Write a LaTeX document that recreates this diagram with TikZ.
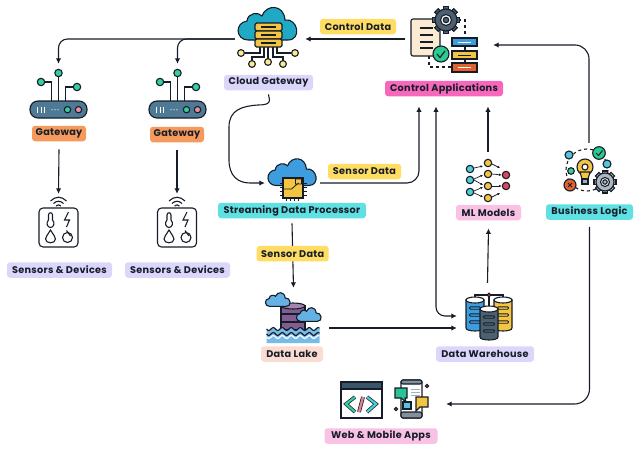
\documentclass[tikz,border=0pt]{standalone}
\usepackage{fontspec}
\setmainfont{Poppins}
\usetikzlibrary{arrows.meta}
\definecolor{ink}{HTML}{161D28}
\definecolor{lilac}{HTML}{DCD6FA}
\definecolor{apricot}{HTML}{F59A5C}
\definecolor{butter}{HTML}{FFDC62}
\definecolor{magenta}{HTML}{F767BC}
\definecolor{aqua}{HTML}{5FE0E2}
\definecolor{blush}{HTML}{F9C2E4}
\definecolor{peach}{HTML}{FBDCD3}
\definecolor{seablue}{HTML}{1FA9C4}
\definecolor{skyblue}{HTML}{3E9DDE}
\definecolor{gold}{HTML}{F4C542}
\definecolor{steel}{HTML}{4F7A96}
\definecolor{mint}{HTML}{2CC990}
\definecolor{rust}{HTML}{E2622F}
\definecolor{rose}{HTML}{D9485F}
\definecolor{slate}{HTML}{4C6070}
\definecolor{paper}{HTML}{FBEBD2}
\tikzset{
	flow/.style={draw=ink, line width=1.1pt, -{Latex[length=5.5pt,width=5.5pt]}},
	tag/.style={rounded corners=3pt, minimum height=15.5pt, inner xsep=0pt, inner ysep=0pt, text=ink, font=\fontsize{9.7}{11}\selectfont\addfontfeature{LetterSpace=3}\bfseries},
	iconbox/.style={inner sep=0pt},
	part/.style={draw=ink, line width=1.1pt},
	pics/cloudshape/.style={code={
		\path[part, pic actions] (-20,14) .. controls (-32,14) and (-34,-3) .. (-21,-5) .. controls (-20,-14) and (-9,-14) .. (-6,-10) .. controls (-2,-22) and (16,-22) .. (17,-6) .. controls (30,-8) and (34,14) .. (20,14) -- cycle;
	}},
	pics/gearshape/.style={code={
		\foreach \a in {0,45,...,315}
			\path[part, pic actions, rotate=\a] (-2.6,-1.22*#1) rectangle (2.6,-0.8*#1);
		\path[part, pic actions] (0,0) circle (#1);
		\path[part, fill=white] (0,0) circle (0.5*#1);
		\path[part, pic actions] (0,0) circle (0.25*#1);
	}},
	pics/dbshape/.style={code={
		\path[part, pic actions] (-9,-15) -- (-9,13) .. controls (-9,17) and (9,17) .. (9,13) -- (9,-15) -- cycle;
		\path[part, fill=white] (0,-15) ellipse [x radius=9, y radius=3];
		\foreach \y in {-7,0,7}
			\draw[part, line width=0.9pt, rounded corners=1pt] (-5.5,\y-1.2) rectangle (5.5,\y+1.2);
	}},
	pics/gatewaypic/.style={code={
		\draw[part] (0,10) -- (0,-18);
		\draw[part] (-7,10) -- (-7,-9) -- (-14,-9);
		\draw[part] (7,10) -- (7,-4) -- (15,-4);
		\path[part, fill=steel, rounded corners=8pt] (-28.5,10) rectangle (28.5,27);
		\foreach \x/\y in {0/-18,-17.5/-9,18.5/-4}
			\path[part, fill=mint!80!aqua] (\x,\y) circle (3.7);
		\foreach \x in {-21,-17.5,-14}
			\draw[white, line width=0.9pt] (\x,16) -- (\x,22);
		\foreach \x in {-6.5,-3.5,-0.5}
			\fill[white] (\x,18.7) circle (0.7);
		\path[part, fill=mint!80!aqua] (9,18.7) circle (3.2);
		\path[part, fill=rose!60!white] (20,18.7) circle (3.2);
	}},
	pics/sensorpic/.style={code={
		\draw[part, rounded corners=4pt] (-19.5,-13) rectangle (19.5,26);
		\draw[part] (-8,-20) .. controls (-3,-25) and (3,-25) .. (8,-20);
		\draw[part] (-5,-17.5) .. controls (-2,-20.5) and (2,-20.5) .. (5,-17.5);
		\draw[part] (-2.5,-15) .. controls (-1,-16.5) and (1,-16.5) .. (2.5,-15);
		\draw[part] (-10,-1) -- (-10,-6) .. controls (-10,-9) and (-6,-9) .. (-6,-6) -- (-6,-1) .. controls (-3,2) and (-5,6.5) .. (-8,6.5) .. controls (-11,6.5) and (-13,2) .. (-10,-1) -- cycle;
		\draw[part] (10,-9) -- (6,-1) -- (11,-1) -- (8,6);
		\draw[part] (-8,9) .. controls (-11,14) and (-13,16) .. (-13,18) .. controls (-13,23) and (-3,23) .. (-3,18) .. controls (-3,16) and (-5,14) .. (-8,9) -- cycle;
		\draw[part] (9,16.5) circle (5);
		\draw[part] (8,9.5) -- (12,15);
	}},
	pics/cloudgwpic/.style={code={
		\draw[part] (-10,8) -- (-10,14) -- (-25,14);
		\draw[part] (-6,8) -- (-6,18) -- (-18,18) -- (-18,22);
		\draw[part] (-2,8) -- (-2,20);
		\draw[part] (3,8) -- (3,18) -- (13,18) -- (13,22);
		\draw[part] (7,8) -- (7,14) -- (21,14);
		\pic[fill=seablue] at (-2,-13) {cloudshape};
		\foreach \y in {-16,-8,0} {
			\path[part, fill=gold, rounded corners=1.5pt] (-15,\y) rectangle (12,\y+8);
			\draw[part] (-9,\y+4) -- (6,\y+4);
		}
		\foreach \x/\y in {-29/14,-18/25,-2/23,13/25,25/14}
			\path[part, fill=butter!70!white] (\x,\y) circle (3.4);
	}},
	pics/ctrlpic/.style={code={
		\draw[part, dashed] (-11,17) -- (-11,28) -- (12,28);
		\draw[part, dashed] (18,-19) -- (25,-19) -- (25,-1);
		\draw[part] (25,7) -- (25,12) (25,20) -- (25,24);
		\path[part, fill=paper, rounded corners=2pt] (-29,-20) rectangle (0,17);
		\foreach \y in {-11,-4,3,9}
			\draw[part] (-20,\y) -- (-7,\y);
		\pic[fill=slate] at (6,-19) {gearshape=11};
		\path[part, fill=skyblue] (12,-1) rectangle (37,7);
		\path[part, fill=gold] (12,12) rectangle (37,20);
		\path[part, fill=rust] (12,24) rectangle (37,33);
		\foreach \y/\c in {3/white,16/ink,28.5/white}
			\draw[\c, line width=0.8pt] (18,\y) -- (31,\y);
		\path[part, fill=mint] (1,15) circle (8);
		\draw[ink, line width=1.1pt] (-3,15) -- (0,18.5) -- (5,12);
	}},
	pics/procpic/.style={code={
		\pic[fill=skyblue, scale=0.82] at (0,-9) {cloudshape};
		\foreach \y in {0,4,8,12} {
			\draw[part, line width=0.7pt] (-13,\y) -- (-9.5,\y);
			\draw[part, line width=0.7pt] (10.5,\y) -- (14,\y);
		}
		\foreach \x in {-6,-2,2,6}
			\draw[part, line width=0.7pt] (\x,15) -- (\x,18);
		\path[part, fill=gold] (-9.5,-5) rectangle (10.5,15);
		\draw[part, line width=0.8pt] (-9.5,6) -- (-1,6) -- (6,0) (3,-4) rectangle (9,1);
	}},
	pics/lakepic/.style={code={
		\path[part, fill=violet!45!slate!80!white] (-12.5,-12) -- (-12.5,12) -- (11.5,12) -- (11.5,-12) -- cycle;
		\path[part, fill=violet!45!slate!60!white] (-0.5,-12) ellipse [x radius=12, y radius=3];
		\foreach \y in {-4,4}
			\draw[part] (-12.5,\y) -- (11.5,\y);
		\pic[fill=skyblue!80!white, scale=0.42] at (-15.5,-17.5) {cloudshape};
		\pic[fill=skyblue!80!white, scale=0.42] at (15.5,-2.5) {cloudshape};
		\fill[skyblue!70!white] plot[domain=-27:26, samples=40, smooth] ({\x},{11+1.5*sin(\x*40)}) -- (26,25) -- (-27,25) -- cycle;
		\draw[white, line width=1.2pt] plot[domain=-27:26, samples=40, smooth] ({\x},{19+1.5*sin(\x*40)});
		\draw[part] plot[domain=-27:26, samples=40, smooth] ({\x},{11+1.5*sin(\x*40)});
		\draw[part] plot[domain=-27:26, samples=40, smooth] ({\x},{16+1.5*sin(\x*40)});
	}},
	pics/whpic/.style={code={
		\draw[part] (-12.5,-10) -- (-12.5,-15) -- (15.5,-15) -- (15.5,-10);
		\draw[part] (1.5,-15) -- (1.5,-1);
		\pic[fill=skyblue] at (-12.5,5) {dbshape};
		\pic[fill=gold] at (15.5,5) {dbshape};
		\pic[fill=slate] at (1.5,14) {dbshape};
		\path[part, fill=rose] (1.5,-15) circle (1.8);
	}},
	pics/mlpic/.style={code={
		\foreach \a/\b/\c/\d in {-14/-13/-5/-15,-14/-2/-5/-6,-14/-1/-5/4,-14/10/-5/6,-14/12/-5/16,4/-17/12/-13,4/-7/13.5/-6,4/5/13.5/5,4/16/12/12}
			\draw[ink, line width=0.7pt, -{Latex[length=2.5pt,width=2.5pt]}] (\a,\b) -- (\c,\d);
		\foreach \y in {-12,-1,11}
			\path[part, fill=aqua!70!seablue] (-18,\y) circle (3.7);
		\foreach \y in {-18,-7,5,17}
			\path[part, fill=gold] (0,\y) circle (3.7);
		\foreach \y in {-6,5}
			\path[part, fill=rose] (18,\y) circle (3.7);
	}},
	pics/bizpic/.style={code={
		\draw[part, dashed] (-2,-2) circle (21);
		\path[part, fill=gold] (-4,-5) circle (8);
		\path[part, fill=gold] (-9,0) -- (-7,7) -- (-1,7) -- (1,0) -- cycle;
		\path[part, fill=white] (-4,-5) circle (3);
		\path[part, fill=slate!50!white] (-7,7) rectangle (-1,12);
		\pic[fill=slate!45!white] at (16,10) {gearshape=9};
		\path[part, fill=mint] (10,-19) circle (6.3);
		\draw[ink, line width=1pt] (7,-19) -- (9.5,-16.5) -- (13.5,-21.5);
		\path[part, fill=aqua!60!skyblue] (-20,-17) circle (4);
		\path[part, fill=aqua!60!skyblue] (18,-8) circle (4);
		\path[part, fill=mint!80!aqua] (-18,-1) circle (3.3);
		\path[part, fill=rust] (-19,13) circle (6);
		\draw[ink, line width=1pt] (-21,11) -- (-17,15) (-17,11) -- (-21,15);
	}},
	pics/webpic/.style={code={
		\path[part, fill=white] (-52,-22) rectangle (-11,14);
		\path[part, fill=steel!60!ink] (-52,-22) rectangle (-11,-15);
		\draw[ink, line width=3.6pt] (-38,-7) -- (-47,0) -- (-38,8);
		\draw[mint!80!aqua, line width=2.2pt] (-38,-7) -- (-47,0) -- (-38,8);
		\draw[ink, line width=3.8pt] (-30,-7) -- (-34,8);
		\draw[rose!70!white, line width=2.4pt] (-30,-7) -- (-34,8);
		\draw[ink, line width=3.6pt] (-26,-7) -- (-17,0) -- (-26,8);
		\draw[aqua!70!seablue, line width=2.2pt] (-26,-7) -- (-17,0) -- (-26,8);
		\path[part, fill=white, rounded corners=2pt] (8,-24) rectangle (29,14);
		\path[part, fill=slate!70!white, rounded corners=2pt] (8,-24) rectangle (29,-20);
		\path[part, fill=slate!70!white, rounded corners=2pt] (8,8) rectangle (29,14);
		\foreach \y in {-15,-12,-9}
			\draw[slate!50!white, line width=1pt] (18,\y) -- (27,\y);
		\path[part, fill=mint!80!seablue] (2,-16) -- (14,-16) -- (14,-6) -- (12,-6) -- (13,-2) -- (8,-6) -- (2,-6) -- cycle;
		\path[part, fill=gold] (23,-7) -- (35,-7) -- (35,3) -- (27,3) -- (23,7) -- cycle;
		\path[part, fill=aqua!60!skyblue] (10,-2) rectangle (18,5);
		\path[part, fill=rose] (34,-18) circle (1.6);
		\path[part, fill=rose] (3,5) circle (1.6);
	}},
}
\begin{document}
\begin{tikzpicture}[x=1pt,y=-1pt]
	\useasboundingbox (0,0) rectangle (640,450);
	% icons, the boxes only carry the anchors
	\node[iconbox, minimum width=70pt, minimum height=40pt] (cloudicon) at (270,39) {};
	\node[iconbox, minimum width=88pt, minimum height=40pt] (ctrlicon) at (449,39) {};
	\node[iconbox, minimum width=57pt, minimum height=54pt] (gwicona) at (58.5,91) {};
	\node[iconbox, minimum width=57pt, minimum height=54pt] (gwiconb) at (177.5,91) {};
	\node[iconbox, minimum width=40pt, minimum height=54pt] (senseicona) at (58.5,221) {};
	\node[iconbox, minimum width=40pt, minimum height=54pt] (senseiconb) at (177,221) {};
	\node[iconbox, minimum width=55pt, minimum height=30pt] (procicon) at (292.5,183) {};
	\node[iconbox, minimum width=71pt, minimum height=60pt] (lakeicon) at (293.5,318) {};
	\node[iconbox, minimum width=61pt, minimum height=54pt] (whicon) at (487.5,310) {};
	\node[iconbox, minimum width=40pt, minimum height=58pt] (mlicon) at (488,181) {};
	\node[iconbox, minimum width=60pt, minimum height=58pt] (bizicon) at (589,172) {};
	\node[iconbox, minimum width=106pt, minimum height=40pt] (webicon) at (393,404) {};
	\pic at (cloudicon) {cloudgwpic};
	\pic at (440,39) {ctrlpic};
	\pic at (gwicona) {gatewaypic};
	\pic at (gwiconb) {gatewaypic};
	\pic at (senseicona) {sensorpic};
	\pic at (senseiconb) {sensorpic};
	\pic at (procicon) {procpic};
	\pic at (lakeicon) {lakepic};
	\pic at (whicon) {whpic};
	\pic at (mlicon) {mlpic};
	\pic at (bizicon) {bizpic};
	\pic at (webicon) {webpic};
	% labels
	\node[tag, fill=lilac, minimum width=89pt] (cloudlbl) at (268.5,82.5) {Cloud Gateway};
	\node[tag, fill=magenta, minimum width=118pt] (ctrllbl) at (444,88.5) {Control Applications};
	\node[tag, fill=apricot, minimum width=54pt] (gwlbla) at (59,133.5) {Gateway};
	\node[tag, fill=apricot, minimum width=54pt] (gwlblb) at (177,134.5) {Gateway};
	\node[tag, fill=lilac, minimum width=105pt] (senselbla) at (59.5,270) {Sensors \& Devices};
	\node[tag, fill=lilac, minimum width=105pt] (senselblb) at (177.5,270) {Sensors \& Devices};
	\node[tag, fill=aqua, minimum width=148pt] (proclbl) at (292,210.5) {Streaming Data Processor};
	\node[tag, fill=peach, minimum width=62pt] (lakelbl) at (292,354) {Data Lake};
	\node[tag, fill=lilac, minimum width=98pt] (whlbl) at (485,354) {Data Warehouse};
	\node[tag, fill=blush, minimum width=65pt] (mllbl) at (488.5,212.5) {ML Models};
	\node[tag, fill=aqua, minimum width=87pt] (bizlbl) at (589.5,212) {Business Logic};
	\node[tag, fill=blush, minimum width=113pt] (weblbl) at (381,436) {Web \& Mobile Apps};
	\node[tag, fill=butter, minimum width=76pt] (ctrldata) at (358,26.5) {Control Data};
	\node[tag, fill=butter, minimum width=73pt] (sensordata) at (364.5,171.5) {Sensor Data};
	% connectors
	\draw[flow] (ctrlicon.west) -- (cloudicon.east);
	\draw[flow, rounded corners=9pt] (cloudicon.west) -| (gwicona.north);
	\draw[flow, rounded corners=9pt] (cloudicon.west) -| (gwiconb.north);
	\draw[flow] ([yshift=-8pt]gwlbla.south) -- (senseicona.north);
	\draw[flow] ([yshift=-8pt]gwlblb.south) -- (senseiconb.north);
	\draw[flow] ([yshift=-4pt]cloudlbl.south) -- (269.5,100) .. controls (269.5,104) and (265,105) .. (258,105) .. controls (242,106) and (229,110) .. (229,127) -- (229,160) .. controls (229,176) and (238,183) .. (250,183) -- (procicon.west);
	\draw[flow, rounded corners=12pt] (procicon.east) -| ([xshift=-25pt,yshift=-10pt]ctrllbl.south);
	\draw[flow] ([yshift=-5pt]proclbl.south) -- node[tag, fill=butter, minimum width=72pt, pos=0.47] (sensorsink) {Sensor Data} (lakeicon.north);
	\draw[flow] ([yshift=-10pt]lakeicon.east) -- ([yshift=-18pt]whicon.west);
	\draw[flow, {Latex[length=5.5pt,width=5.5pt]}-{Latex[length=5.5pt,width=5.5pt]}, rounded corners=9pt] ([xshift=-8pt,yshift=-10pt]ctrllbl.south) |- ([yshift=-6pt]whicon.west);
	\draw[flow] (whicon.north) -- ([yshift=-8pt]mllbl.south);
	\draw[flow] (mlicon.north) -- ([xshift=44pt,yshift=-10pt]ctrllbl.south);
	\draw[flow, rounded corners=14pt] (bizicon.north) |- ([yshift=-6pt]ctrlicon.east);
	\draw[flow, rounded corners=15pt] ([yshift=-7pt]bizlbl.south) |- (webicon.east);
\end{tikzpicture}
\end{document}
